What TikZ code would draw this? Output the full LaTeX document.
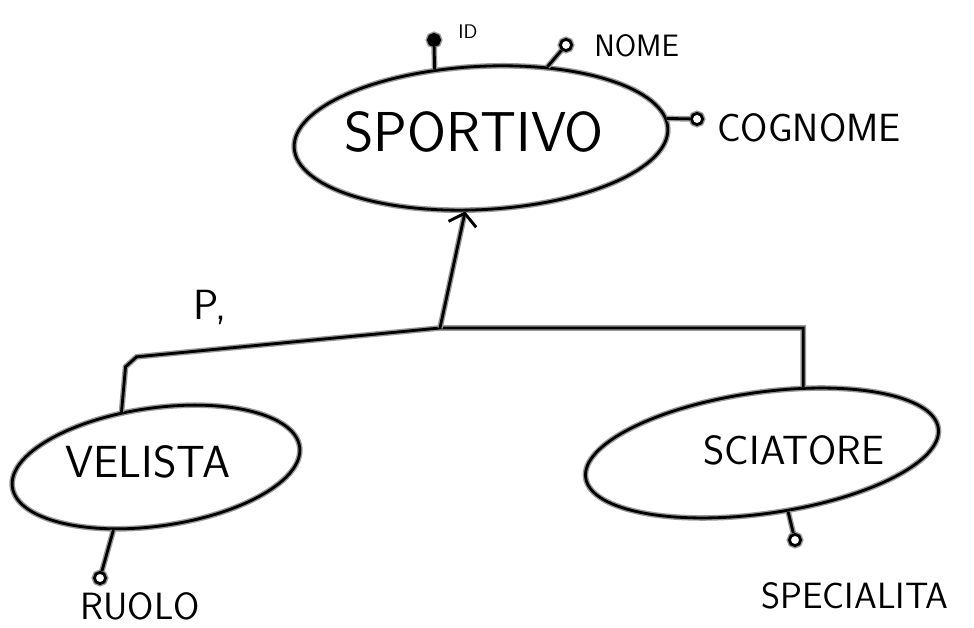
\documentclass[tikz,border=0pt]{standalone}
\usepackage{tikz}
\usetikzlibrary{arrows.meta,shapes.geometric}
\tikzset{
	pen/.style={draw=black, line width=2pt, preaction={draw=black!40, line width=4pt}},
	entity/.style={pen, shape=ellipse, inner sep=0pt},
	attrc/.style={pen, circle, fill=white, minimum size=0.28cm, inner sep=0pt},
	keyc/.style={attrc, fill=black},
	hand/.style={font=\sffamily\fontsize{#1}{#1}\selectfont, inner sep=0pt},
	isa/.style={pen, -{Straight Barb[length=8pt, width=20pt, line width=2pt]}}
}

\begin{document}
\begin{tikzpicture}[x=0.025cm, y=-0.025cm]
			%%%%% START %%%%%
			\useasboundingbox (0, 0) rectangle (974, 628);
			
			\node[entity, minimum width=9.35cm, minimum height=3.58cm, rotate=3] (sport) at (481, 138) {};
			\node[hand=40] (sportt) at (474, 132) {SPORTIVO};
			\node[entity, minimum width=7.25cm, minimum height=2.95cm, rotate=8] (velista) at (156, 467) {};
			\node[hand=32] (velistat) at (148, 462) {VELISTA};
			\node[entity, minimum width=8.9cm, minimum height=3.03cm, rotate=8] (sciatore) at (762, 453) {};
			\node[hand=29] (sciatoret) at (794, 450) {SCIATORE};
			
			% attributi di SPORTIVO
			\node[keyc] (idc) at (434, 40) {};
			\node[hand=14] (idl) at (468, 32) {ID};
			\draw[pen] (sport.121) -- (idc);
			
			\node[attrc] (nomec) at (566, 45) {};
			\node[hand=22, anchor=west] (nomel) at (594, 46) {NOME};
			\draw[pen] (sport.44) -- (nomec);
			
			\node[attrc] (cognc) at (697, 119) {};
			\node[hand=28, anchor=west] (cognl) at (717, 128) {COGNOME};
			\draw[pen] (sport.3) -- (cognc);
			
			% attributi delle figlie
			\node[attrc] (ruoloc) at (100, 578) {};
			\node[hand=27] (ruolol) at (140, 606) {RUOLO};
			\draw[pen] (velista.228) -- (ruoloc);
			
			\node[attrc] (specc) at (795, 540) {};
			\node[hand=26] (specl) at (855, 596) {SPECIALITA};
			\draw[pen] (sciatore.286) -- (specc);
			
			% generalizzazione
			\coordinate (gen) at (440, 328);
			\draw[pen] (velista.114) -- ++(4, -45) -- ++(11, -10) -- (gen) -| (sciatore.50);
			\draw[isa] (gen) -- (sport);
			\node[hand=30] (copl) at (210, 308) {P,};
			
			%%%%% END %%%%%
\end{tikzpicture}
\end{document}
